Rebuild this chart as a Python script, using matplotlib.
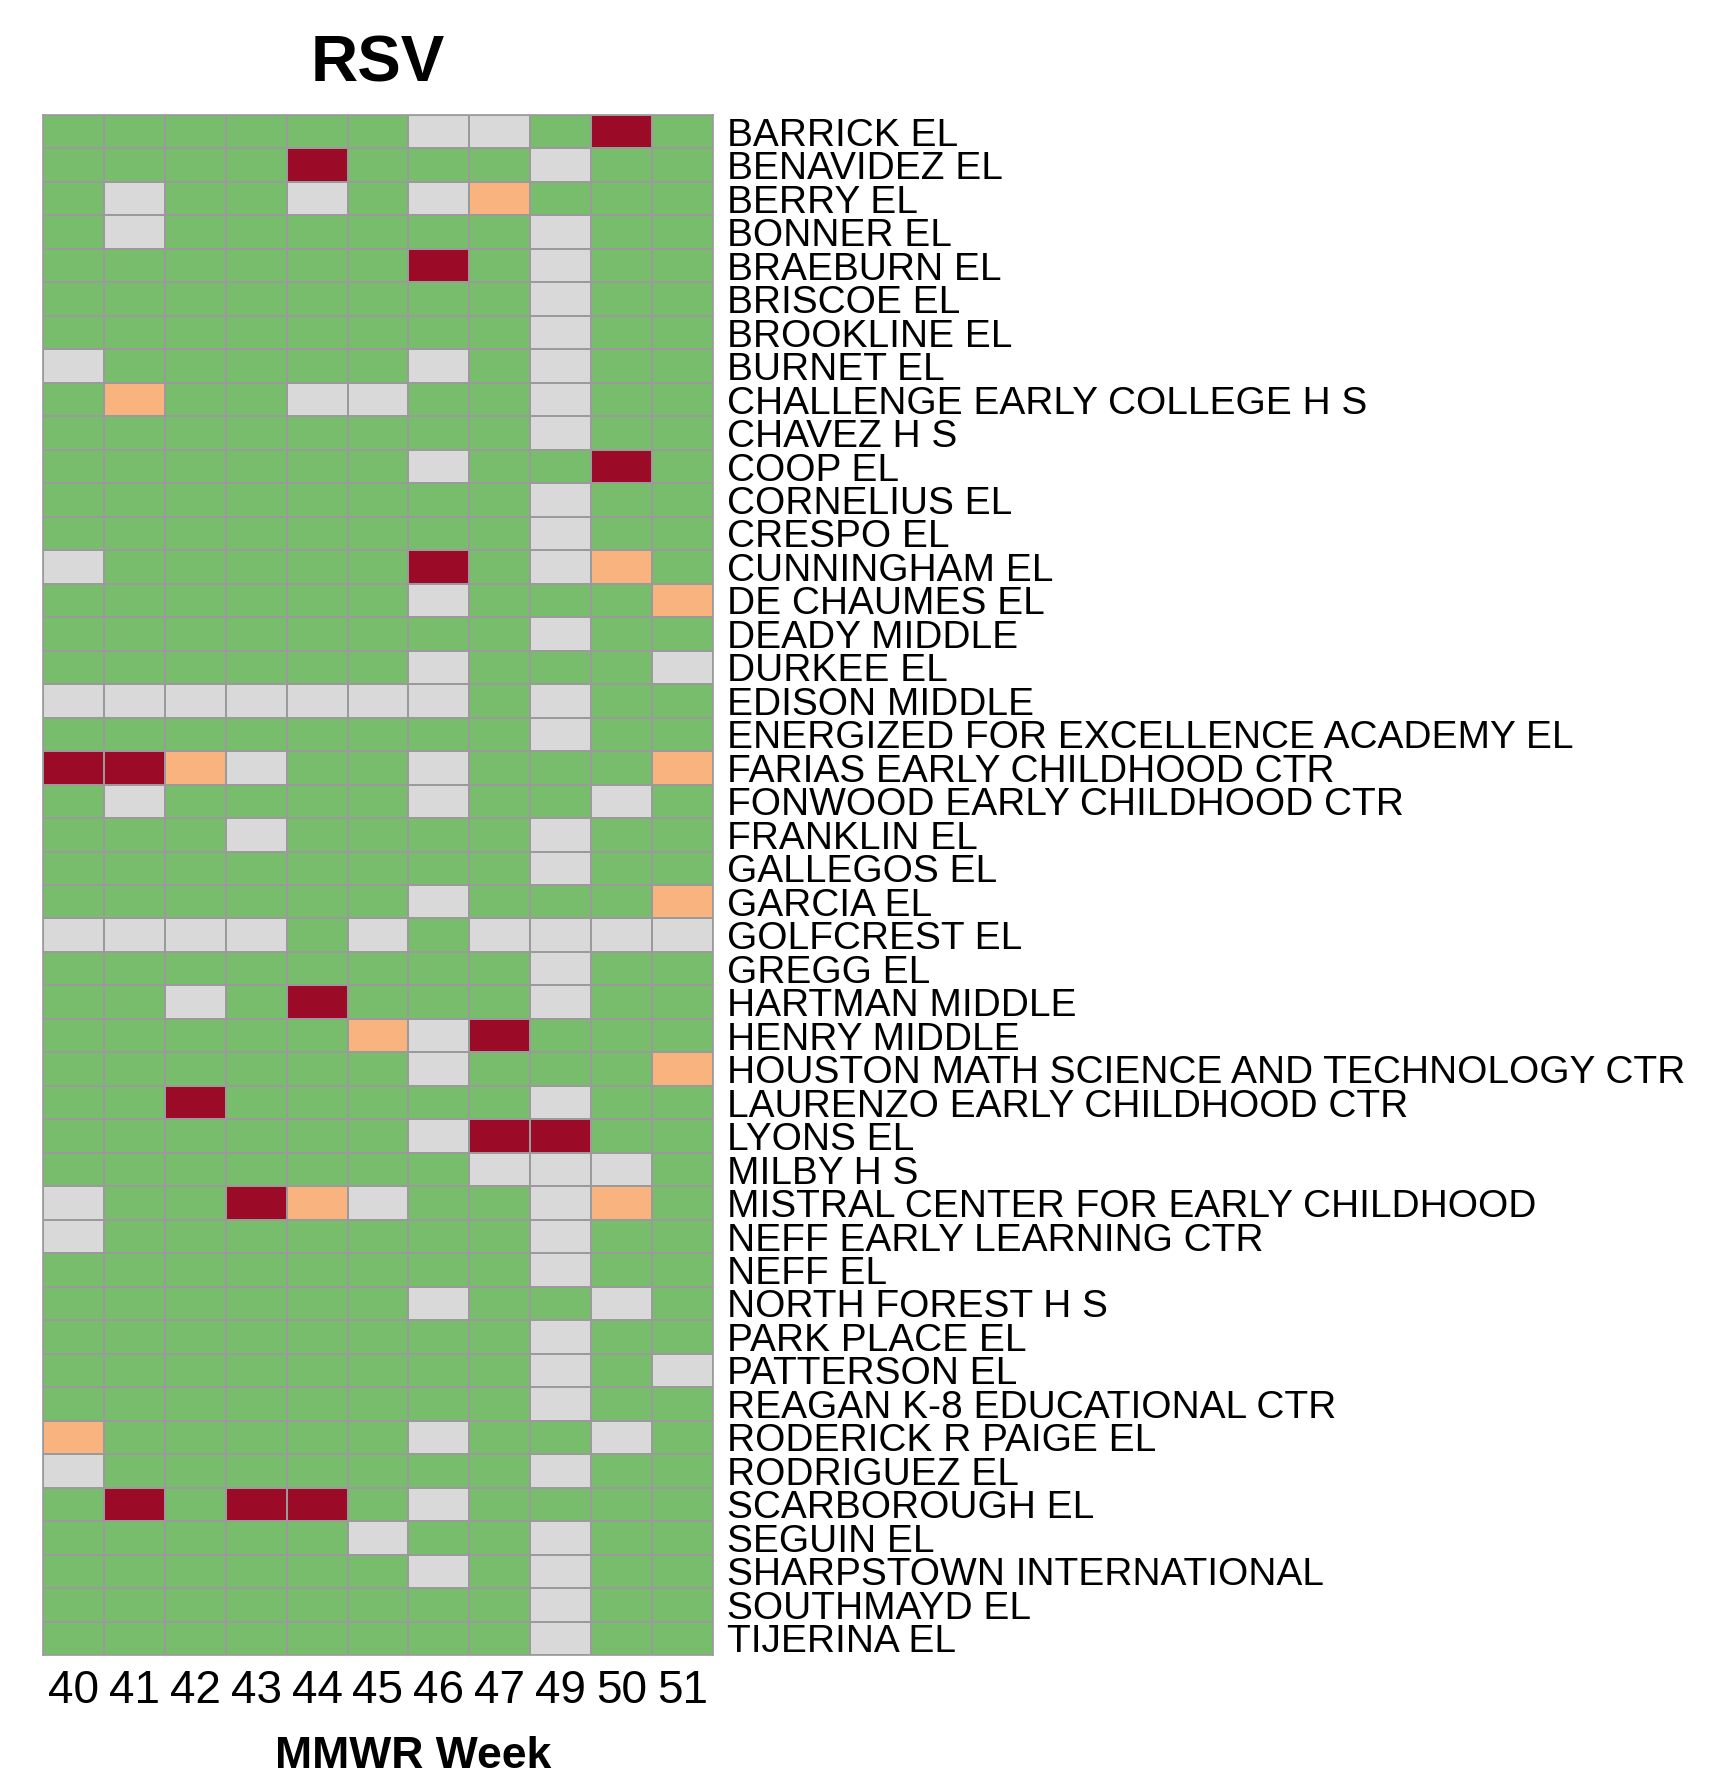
import numpy as np
import matplotlib
matplotlib.use('Agg')
import matplotlib.pyplot as plt
from matplotlib.colors import ListedColormap, BoundaryNorm

plt.rcParams['font.family'] = ['Liberation Sans', 'DejaVu Sans']

weeks = ['40', '41', '42', '43', '44', '45', '46', '47', '49', '50', '51']

schools = [
    'BARRICK EL', 'BENAVIDEZ EL', 'BERRY EL', 'BONNER EL', 'BRAEBURN EL',
    'BRISCOE EL', 'BROOKLINE EL', 'BURNET EL', 'CHALLENGE EARLY COLLEGE H S',
    'CHAVEZ H S', 'COOP EL', 'CORNELIUS EL', 'CRESPO EL', 'CUNNINGHAM EL',
    'DE CHAUMES EL', 'DEADY MIDDLE', 'DURKEE EL', 'EDISON MIDDLE',
    'ENERGIZED FOR EXCELLENCE ACADEMY EL', 'FARIAS EARLY CHILDHOOD CTR',
    'FONWOOD EARLY CHILDHOOD CTR', 'FRANKLIN EL', 'GALLEGOS EL', 'GARCIA EL',
    'GOLFCREST EL', 'GREGG EL', 'HARTMAN MIDDLE', 'HENRY MIDDLE',
    'HOUSTON MATH SCIENCE AND TECHNOLOGY CTR', 'LAURENZO EARLY CHILDHOOD CTR',
    'LYONS EL', 'MILBY H S', 'MISTRAL CENTER FOR EARLY CHILDHOOD',
    'NEFF EARLY LEARNING CTR', 'NEFF EL', 'NORTH FOREST H S', 'PARK PLACE EL',
    'PATTERSON EL', 'REAGAN K-8 EDUCATIONAL CTR', 'RODERICK R PAIGE EL',
    'RODRIGUEZ EL', 'SCARBOROUGH EL', 'SEGUIN EL', 'SHARPSTOWN INTERNATIONAL',
    'SOUTHMAYD EL', 'TIJERINA EL',
]

# status per school and week: G = low, L = no data, O = elevated, R = high
status = [
    'GGGGGGLLGRG', 'GGGGRGGGLGG', 'GLGGLGLOGGG', 'GLGGGGGGLGG', 'GGGGGGRGLGG',
    'GGGGGGGGLGG', 'GGGGGGGGLGG', 'LGGGGGLGLGG', 'GOGGLLGGLGG', 'GGGGGGGGLGG',
    'GGGGGGLGGRG', 'GGGGGGGGLGG', 'GGGGGGGGLGG', 'LGGGGGRGLOG', 'GGGGGGLGGGO',
    'GGGGGGGGLGG', 'GGGGGGLGGGL', 'LLLLLLLGLGG', 'GGGGGGGGLGG', 'RROLGGLGGGO',
    'GLGGGGLGGLG', 'GGGLGGGGLGG', 'GGGGGGGGLGG', 'GGGGGGLGGGO', 'LLLLGLGLLLL',
    'GGGGGGGGLGG', 'GGLGRGGGLGG', 'GGGGGOLRGGG', 'GGGGGGLGGGO', 'GGRGGGGGLGG',
    'GGGGGGLRRGG', 'GGGGGGGLLLG', 'LGGROLGGLOG', 'LGGGGGGGLGG', 'GGGGGGGGLGG',
    'GGGGGGLGGLG', 'GGGGGGGGLGG', 'GGGGGGGGLGL', 'GGGGGGGGLGG', 'OGGGGGLGGLG',
    'LGGGGGGGLGG', 'GRGRRGLGGGG', 'GGGGGLGGLGG', 'GGGGGGLGLGG', 'GGGGGGGGLGG',
    'GGGGGGGGLGG',
]

codes = {'G': 0, 'L': 1, 'O': 2, 'R': 3}
grid = np.array([[codes[c] for c in row] for row in status])

cmap = ListedColormap(['#78BD6C', '#D9D9D9', '#F8B37E', '#9B0B28'])
norm = BoundaryNorm([-0.5, 0.5, 1.5, 2.5, 3.5], cmap.N)

fig = plt.figure(figsize=(17.28, 17.8), dpi=100)
ax = fig.add_axes([43 / 1728, 1 - 1655 / 1780, 670 / 1728, 1540 / 1780])

ax.pcolormesh(grid, cmap=cmap, norm=norm, edgecolors='#9A9A9A', linewidth=1.2)
ax.set_xlim(0, len(weeks))
ax.set_ylim(len(schools), 0)

ax.set_xticks(np.arange(len(weeks)) + 0.5)
ax.set_xticklabels(weeks, fontsize=33)
ax.set_yticks(np.arange(len(schools)) + 0.5)
ax.set_yticklabels(schools, fontsize=28)
ax.yaxis.tick_right()
ax.tick_params(axis='both', length=0)
ax.tick_params(axis='x', pad=10)
ax.tick_params(axis='y', pad=10)
for s in ax.spines.values():
    s.set_color('#9A9A9A')
    s.set_linewidth(1.2)

fig.text(378 / 1728, 1 - 82 / 1780, 'RSV', fontsize=47, fontweight='bold',
         ha='center', va='baseline')
fig.text(413 / 1728, 1 - 1768 / 1780, 'MMWR Week', fontsize=32, fontweight='bold',
         ha='center', va='baseline')

plt.savefig('out.png', dpi=100)
